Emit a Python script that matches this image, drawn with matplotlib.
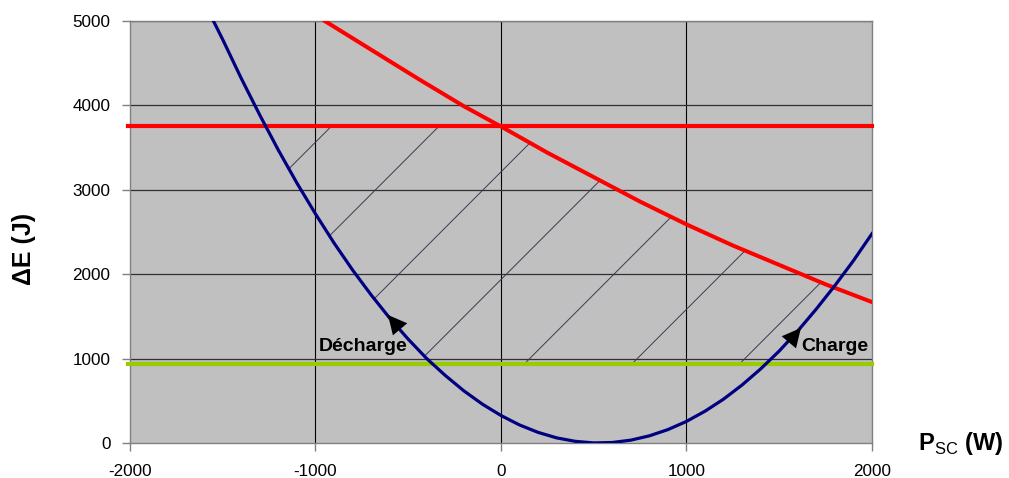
import numpy as np
import matplotlib
matplotlib.use("Agg")
import matplotlib.pyplot as plt

plt.rcParams['font.family'] = ['Liberation Sans', 'DejaVu Sans']
plt.rcParams['mathtext.fontset'] = 'custom'
plt.rcParams['mathtext.rm'] = 'Liberation Sans'

# parabola dE(P_sc)
blue_x = [-1550, -1500, -1400, -1300, -1200, -1100, -1000, -900, -800, -700, -600,
          -500, -400, -300, -200, -100, 0, 100, 200, 300, 400, 500, 600, 700, 800,
          900, 1000, 1100, 1200, 1300, 1400, 1500, 1600, 1700, 1800, 1900, 2000]
blue_y = [5000, 4780, 4320, 3885, 3470, 3080, 2715, 2370, 2050, 1755, 1480,
          1230, 1000, 800, 618, 460, 326, 214, 126, 61, 20, 1, 6, 34, 85,
          159, 256, 377, 520, 688, 878, 1090, 1328, 1588, 1865, 2160, 2480]

# upper limit curve (red)
red_x = [-950, -700, -450, -200, 0, 250, 500, 750, 1000, 1250, 1500, 1750, 2000]
red_y = [5000, 4660, 4320, 3990, 3750, 3440, 3150, 2860, 2590, 2340, 2110, 1880, 1670]

red_level = 3750
green_level = 937.5

# hatch lines: where each one meets dE = 0
hatch_x0 = [-2620, -2040, -1460, -880, -300, 280, 860]
hatch_slope = 2.2

xticks = [-2000, -1000, 0, 1000, 2000]
yticks = [0, 1000, 2000, 3000, 4000, 5000]

fig = plt.figure(figsize=(10.09, 4.78), dpi=100)
ax = fig.add_axes([0.1288, 0.0732, 0.7354, 0.8829])
ax.set_facecolor('#C0C0C0')
ax.set_xlim(-2000, 2000)
ax.set_ylim(0, 5000)

for v in [-1000, 0, 1000]:
    ax.axvline(v, color='black', lw=0.8, zorder=1)
for v in yticks[1:]:
    ax.axhline(v, color='#303030', lw=0.9, zorder=1)

# hatched zone
xg = np.linspace(-2000, 2000, 2001)
lo = np.maximum(np.interp(xg, blue_x, blue_y), green_level)
hi = np.minimum(np.interp(xg, red_x, red_y), red_level)
zone = ax.fill_between(xg, lo, hi, where=hi > lo, facecolor='none', edgecolor='none')
zone_path = zone.get_paths()[0]
for x0 in hatch_x0:
    ln, = ax.plot([x0, x0 + 5000 / hatch_slope], [0, 5000], color='#3a3a55', lw=0.7, zorder=2)
    ln.set_clip_path(zone_path, ax.transData)

ax.plot([-2010, 2000], [green_level, green_level], color='#99CC00', lw=3.0, zorder=3, clip_on=False)
ax.plot([-2010, 2000], [red_level, red_level], color='#FF0000', lw=3.0, zorder=3, clip_on=False)
ax.plot(red_x, red_y, color='#FF0000', lw=2.9, zorder=4)
ax.plot(blue_x, blue_y, color='#000080', lw=2.3, zorder=5, solid_joinstyle='round')

arrow = dict(arrowstyle='-|>,head_length=0.9,head_width=0.45', color='black',
             shrinkA=0, shrinkB=0, mutation_scale=15, lw=0)
ax.annotate('', xy=(-609, 1517), xytext=(-550, 1363), arrowprops=arrow, zorder=6)
ax.annotate('', xy=(1617, 1363), xytext=(1558, 1209), arrowprops=arrow, zorder=6)
ax.text(-745, 1149, 'Décharge', fontsize=14, fontweight='bold', ha='center', va='center', zorder=6)
ax.text(1800, 1149, 'Charge', fontsize=14, fontweight='bold', ha='center', va='center', zorder=6)

ax.set_xticks(xticks)
ax.set_xticklabels([str(v) for v in xticks])
ax.set_yticks(yticks)
ax.set_yticklabels([str(v) for v in yticks])
ax.tick_params(axis='x', direction='out', length=6, width=1, color='#808080', pad=9, labelsize=12.3)
ax.tick_params(axis='y', direction='out', length=6, width=1, color='#808080', pad=8, labelsize=12.3)
for s in ax.spines.values():
    s.set_color('#808080')
    s.set_linewidth(1)

fig.text(0.024, 0.479, 'ΔE (J)', rotation=90, fontsize=18, fontweight='bold', ha='center', va='center')
ax.text(1.062, -0.017, r'P$_{\mathrm{SC}}$ (W)', transform=ax.transAxes,
        fontsize=17, fontweight='bold', ha='left', va='baseline')

fig.savefig('out.png', dpi=100)
